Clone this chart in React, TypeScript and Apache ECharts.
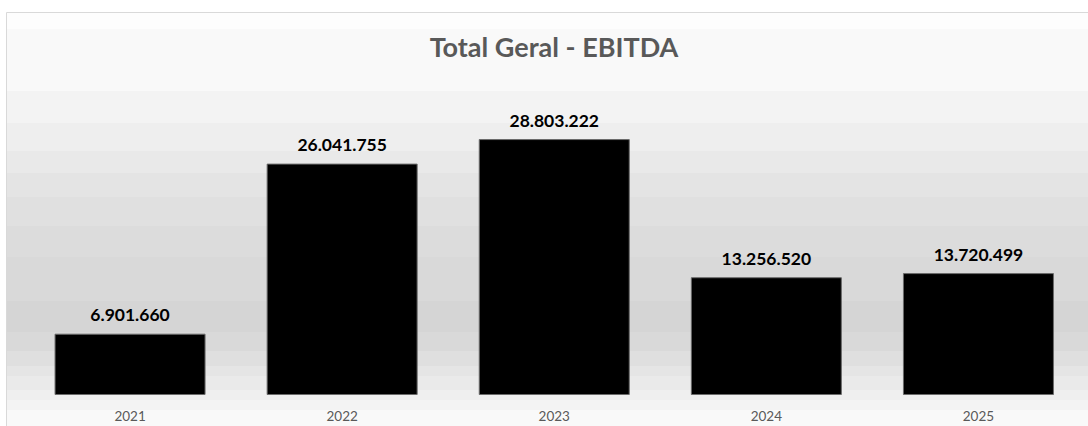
import React, { useEffect, useRef } from "react";
import * as echarts from "echarts";

const years = ["2021", "2022", "2023", "2024", "2025"];
const ebitda = [6901660, 26041755, 28803222, 13256520, 13720499];
const chartTitle = "Total Geral - EBITDA";

// background bands: [yStart, yEnd, colour] (decor only)
const FRAME_TOP = 12;
const FRAME_H = 426 - 12;
const bands: [number, number, string][] = [
  [12, 28, "#fdfdfd"],
  [28, 88, "#f9f9f9"],
  [88, 118, "#f3f3f3"],
  [118, 145, "#eeeeee"],
  [145, 167, "#e9e9e9"],
  [167, 190, "#e4e4e4"],
  [190, 218, "#e0e0e0"],
  [218, 247, "#dcdcdc"],
  [247, 290, "#d9d9d9"],
  [290, 320, "#d5d5d5"],
  [320, 338, "#d9d9d9"],
  [338, 352, "#dfdfdf"],
  [352, 362, "#e5e5e5"],
  [362, 375, "#eaeaea"],
  [375, 385, "#efefef"],
  [385, 395, "#f3f3f3"],
  [395, 426, "#f9f9f9"],
];

function fmt(v: number): string {
  return String(Math.round(v)).replace(/\B(?=(\d{3})+(?!\d))/g, ".");
}

export default function App() {
  const ref = useRef<HTMLDivElement>(null);
  useEffect(() => {
    if (!ref.current) return;
    const chart = echarts.init(ref.current, null, { renderer: "svg" });
    const stops: { offset: number; color: string }[] = [];
    bands.forEach(([a, b, c]) => {
      stops.push({ offset: (a - FRAME_TOP) / FRAME_H, color: c });
      stops.push({ offset: (b - FRAME_TOP) / FRAME_H, color: c });
    });
    chart.setOption({
      animation: false,
      backgroundColor: "#ffffff",
      graphic: [
        {
          type: "rect",
          z: -10,
          silent: true,
          shape: { x: 6.5, y: FRAME_TOP + 0.5, width: 1100, height: 430 },
          style: {
            fill: new echarts.graphic.LinearGradient(0, 0, 0, 1, stops, false),
            stroke: "#d9d9d9",
            lineWidth: 1,
          },
        },
        {
          type: "text",
          x: 554,
          y: 46,
          z: 5,
          style: {
            text: chartTitle,
            font: "bold 27px Lato",
            fill: "#595959",
            align: "center",
            verticalAlign: "middle",
          },
        },
      ],
      grid: { left: 24, right: 3.5, top: 84, bottom: 31, containLabel: false },
      xAxis: {
        type: "category",
        data: years,
        axisLine: { show: false },
        axisTick: { show: false },
        axisLabel: {
          color: "#595959",
          fontFamily: "Lato",
          fontSize: 13.5,
          margin: 14,
        },
      },
      yAxis: {
        type: "value",
        min: 0,
        max: 35000000,
        show: false,
        splitLine: { show: false },
      },
      series: [
        {
          type: "bar",
          data: ebitda,
          barWidth: 151,
          itemStyle: { color: "#000000", borderColor: "#6b6b6b", borderWidth: 1 },
          label: {
            show: true,
            position: "top",
            distance: 10,
            color: "#000000",
            fontFamily: "Lato",
            fontWeight: "bold",
            fontSize: 17.5,
            formatter: (p: any) => fmt(p.value),
          },
        },
      ],
    });
    return () => chart.dispose();
  }, []);
  return (
    <div
      ref={ref}
      style={{ position: "fixed", left: 0, top: 0, width: 1088, height: 426 }}
    />
  );
}
